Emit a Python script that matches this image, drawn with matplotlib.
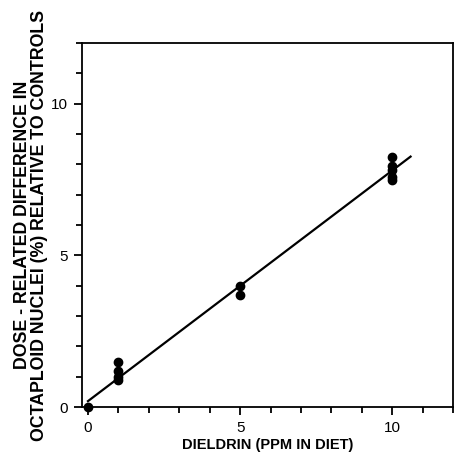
import matplotlib
matplotlib.use('Agg')
from matplotlib import pyplot as plt
from matplotlib.ticker import MultipleLocator

plt.rcParams['font.family'] = ['Liberation Sans', 'DejaVu Sans']

# dose (ppm in diet) and measured differences
dose = [0, 1, 1, 1, 1, 5, 5, 10, 10, 10, 10, 10]
diff = [0.0, 1.5, 1.2, 1.0, 0.9, 4.0, 3.7, 8.25, 7.95, 7.8, 7.6, 7.5]

# regression line
fit_x = [0, 10.6]
fit_intercept = 0.2
fit_slope = 0.76

fig = plt.figure(figsize=(4.55, 4.57), dpi=100)
ax = fig.add_axes([0.180, 0.109, 0.816, 0.797])

ax.plot(dose, diff, 'o', c='black', ms=6, clip_on=False)
ax.plot(fit_x, [fit_intercept + fit_slope * v for v in fit_x], c='black', lw=1.6)

ax.set_xlim(-0.2, 12)
ax.set_ylim(0, 12)
ax.xaxis.set_major_locator(MultipleLocator(5))
ax.xaxis.set_minor_locator(MultipleLocator(1))
ax.yaxis.set_major_locator(MultipleLocator(5))
ax.yaxis.set_minor_locator(MultipleLocator(1))
ax.tick_params(axis='both', which='major', direction='out', length=6, width=1.3, labelsize=11, pad=4)
ax.tick_params(axis='both', which='minor', direction='out', length=4, width=1.3)
for s in ax.spines.values():
    s.set_linewidth(1.3)

ax.set_xlabel('DIELDRIN (PPM IN DIET)', fontsize=10.5, fontweight='bold', labelpad=2)
ax.set_ylabel('DOSE - RELATED DIFFERENCE IN\nOCTAPLOID NUCLEI (%) RELATIVE TO CONTROLS',
              fontsize=12.8, fontweight='bold', labelpad=2, linespacing=1.05)

fig.savefig('out.png', dpi=100)
